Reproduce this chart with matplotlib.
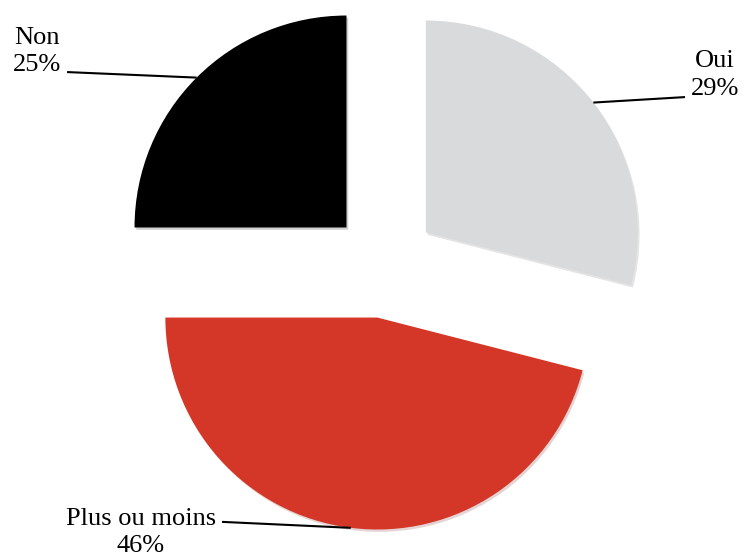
import matplotlib
matplotlib.use("Agg")
import matplotlib.pyplot as plt
import numpy as np

# data
labels = ["Oui", "Plus ou moins", "Non"]
values = [29, 46, 25]
colors = ["#d9dadb", "#d43627", "#000000"]

# label layout: text centre and leader-line end (data coords)
text_pos = [(1.561, 0.896), (-1.146, -1.262), (-1.637, 1.009)]
line_end = [(1.420, 0.792), (-0.764, -1.212), (-1.495, 0.910)]

plt.rcParams["font.family"] = ["Liberation Serif", "DejaVu Serif"]

fig = plt.figure(figsize=(7.44, 5.56), dpi=100)
ax = fig.add_axes([0, 0, 1, 1])

explode = [0.25] * len(values)
wedges, _ = ax.pie(values, colors=colors, startangle=90, counterclock=False,
                   explode=explode, radius=1,
                   shadow={"ox": 0.006, "oy": -0.008, "shade": 0.5, "alpha": 0.18},
                   wedgeprops={"linewidth": 0})

for w, lab, v, tp, le in zip(wedges, labels, values, text_pos, line_end):
    ang = np.deg2rad((w.theta1 + w.theta2) / 2)
    cx, cy = w.center
    ax_pt = (cx + np.cos(ang) * w.r, cy + np.sin(ang) * w.r)
    ax.plot([ax_pt[0], le[0]], [ax_pt[1], le[1]], color="black", lw=1.5,
            solid_capstyle="butt")
    ax.text(tp[0], tp[1], f"{lab}\n{v}%", ha="center", va="center",
            fontsize=19, linespacing=1.3)

ax.set_xlim(-1.811, 1.698)
ax.set_ylim(-1.373, 1.25)
ax.set_aspect("equal")
ax.axis("off")

fig.savefig("out.png", dpi=100)
